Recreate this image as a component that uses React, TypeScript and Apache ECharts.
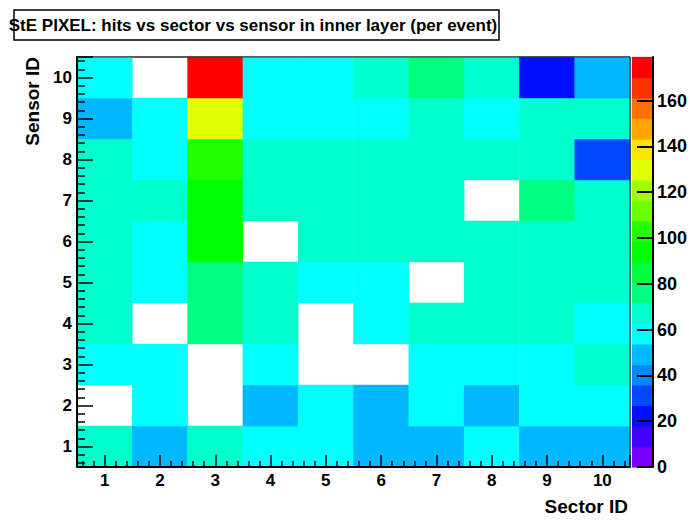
import React, { useEffect, useRef } from "react";
import * as echarts from "echarts";

const titleText = "StE PIXEL: hits vs sector vs sensor in inner layer (per event)";
const xTitle = "Sector ID";
const yTitle = "Sensor ID";

const sectors = ["1", "2", "3", "4", "5", "6", "7", "8", "9", "10"];
const sensors = ["1", "2", "3", "4", "5", "6", "7", "8", "9", "10"];

// hits per event, one row per sensor (sensor 1 first), one entry per sector; null = empty bin
const hitsSensor1 = [67, 50, 67, 59, 59, 50, 50, 59, 50, 50];
const hitsSensor2 = [null, 59, null, 50, 59, 50, 59, 50, 59, 59];
const hitsSensor3 = [59, 59, null, 59, null, null, 59, 59, 59, 67];
const hitsSensor4 = [67, null, 77, 67, null, 59, 67, 67, 67, 59];
const hitsSensor5 = [67, 59, 77, 67, 59, 59, null, 67, 67, 67];
const hitsSensor6 = [67, 59, 94, null, 67, 67, 67, 67, 67, 67];
const hitsSensor7 = [67, 67, 94, 67, 67, 67, 67, null, 76, 67];
const hitsSensor8 = [67, 59, 103, 67, 67, 67, 67, 67, 67, 32];
const hitsSensor9 = [50, 59, 130, 59, 59, 59, 67, 59, 67, 67];
const hitsSensor10 = [59, null, 179, 59, 59, 67, 76, 67, 22, 50];

const hitsBySensor: (number | null)[][] = [
  hitsSensor1, hitsSensor2, hitsSensor3, hitsSensor4, hitsSensor5,
  hitsSensor6, hitsSensor7, hitsSensor8, hitsSensor9, hitsSensor10,
];

// ROOT-like palette, 20 contour levels from 0 to max
const paletteColors = [
  "#7800ff", "#4400ff", "#0010ff", "#0048ff", "#0088ff",
  "#00b8ff", "#00ffff", "#00ffcc", "#00ff80", "#00ff40",
  "#00ff00", "#22ff00", "#6cff00", "#a0ff00", "#e0ff00",
  "#ffe600", "#ffa500", "#ff7000", "#ff3300", "#ff0000",
];
const paletteTickStep = 20;

const FONT = '"Liberation Sans", Arial, Helvetica, sans-serif';

export default function App() {
  const ref = useRef<HTMLDivElement>(null);

  useEffect(() => {
    if (!ref.current) return;
    const chart = echarts.init(ref.current, undefined, { renderer: "svg" });

    const cells: [number, number, number][] = [];
    hitsBySensor.forEach((row, si) => {
      row.forEach((v, xi) => {
        if (v !== null && v !== undefined) cells.push([xi, si, v]);
      });
    });
    const zMax = Math.max(...cells.map((c) => c[2]));
    const nLev = paletteColors.length;
    const step = zMax / nLev;
    const pieces = paletteColors.map((c, i) =>
      i === nLev - 1
        ? { gte: i * step, lte: zMax + 1e-9, color: c }
        : { gte: i * step, lt: (i + 1) * step, color: c }
    );
    const bands = paletteColors.map((_, i) => [i * step, (i + 1) * step, i]);

    const labelStyle = {
      color: "#000",
      fontWeight: "bold" as const,
      fontSize: 17,
      fontFamily: FONT,
    };

    const frameAxis = (position: string, tickLen: number) => ({
      type: "value", gridIndex: 2, min: 0.5, max: 10.5, splitNumber: 10, position, z: 5,
      axisLine: { show: true, onZero: false, lineStyle: { color: "#000", width: 2 } },
      axisTick: { show: true, inside: true, length: tickLen, lineStyle: { color: "#000", width: 1.5 } },
      minorTick: { show: true, splitNumber: 5, length: tickLen / 2, lineStyle: { color: "#000", width: 1.5 } },
      splitLine: { show: false },
      minorSplitLine: { show: false },
      axisLabel: { ...labelStyle, margin: 5, showMinLabel: false, showMaxLabel: false },
    });

    chart.setOption({
      animation: false,
      backgroundColor: "#fff",
      grid: [
        { left: 77, top: 57, width: 553, height: 410, show: true, borderColor: "#000", borderWidth: 1, backgroundColor: "transparent" },
        { left: 632, top: 57, width: 31, height: 410, show: true, borderColor: "#ccc", borderWidth: 1, backgroundColor: "transparent" },
        { left: 77, top: 57, width: 553, height: 410, show: true, z: 5, borderColor: "#333", borderWidth: 1, backgroundColor: "transparent" },
      ],
      xAxis: [
        { type: "category", gridIndex: 0, data: sectors, show: false },
        { type: "value", gridIndex: 1, min: 0, max: 1, show: false },
        frameAxis("bottom", 12),
      ],
      yAxis: [
        { type: "category", gridIndex: 0, data: sensors, show: false },
        {
          type: "value", gridIndex: 1, min: 0, max: zMax, interval: paletteTickStep, position: "right", z: 5,
          axisLine: { show: true, onZero: false, lineStyle: { color: "#000", width: 2 } },
          axisTick: { show: true, inside: true, length: 16, lineStyle: { color: "#000", width: 2 } },
          splitLine: { show: false },
          axisLabel: { ...labelStyle, fontSize: 18, margin: 4, showMaxLabel: false },
        },
        frameAxis("left", 16),
      ],
      visualMap: {
        type: "piecewise",
        show: false,
        seriesIndex: 0,
        dimension: 2,
        pieces,
      },
      series: [
        {
          type: "heatmap",
          xAxisIndex: 0,
          yAxisIndex: 0,
          data: cells,
          itemStyle: { borderWidth: 0 },
        },
        {
          type: "custom",
          xAxisIndex: 1,
          yAxisIndex: 1,
          data: bands,
          encode: { y: [0, 1] },
          renderItem: (params: any, api: any) => {
            const lo = api.value(0);
            const hi = api.value(1);
            const idx = api.value(2);
            const p0 = api.coord([0, lo]);
            const p1 = api.coord([1, hi]);
            return {
              type: "rect",
              shape: { x: p0[0], y: p1[1], width: p1[0] - p0[0], height: p0[1] - p1[1] + 0.5 },
              style: { fill: paletteColors[idx] },
            };
          },
        },
      ],
      graphic: [
        {
          type: "rect",
          shape: { x: 14, y: 10, width: 485, height: 30 },
          style: { fill: "#fff", stroke: "#000", lineWidth: 1.5 },
          z: 10,
        },
        {
          type: "text", x: 253, y: 25, z: 11,
          style: { text: titleText, fill: "#000", font: `bold 17px ${FONT}`, align: "center", verticalAlign: "middle" },
        },
        {
          type: "text", x: 628, y: 506,
          style: { text: xTitle, fill: "#000", font: `bold 19px ${FONT}`, align: "right", verticalAlign: "middle" },
        },
        {
          type: "text", x: 32, y: 57, rotation: Math.PI / 2,
          style: { text: yTitle, fill: "#000", font: `bold 19px ${FONT}`, align: "right", verticalAlign: "middle" },
        },
      ],
    });

    return () => chart.dispose();
  }, []);

  return (
    <div
      ref={ref}
      style={{ position: "fixed", left: 0, top: 0, width: 690, height: 526 }}
    />
  );
}
